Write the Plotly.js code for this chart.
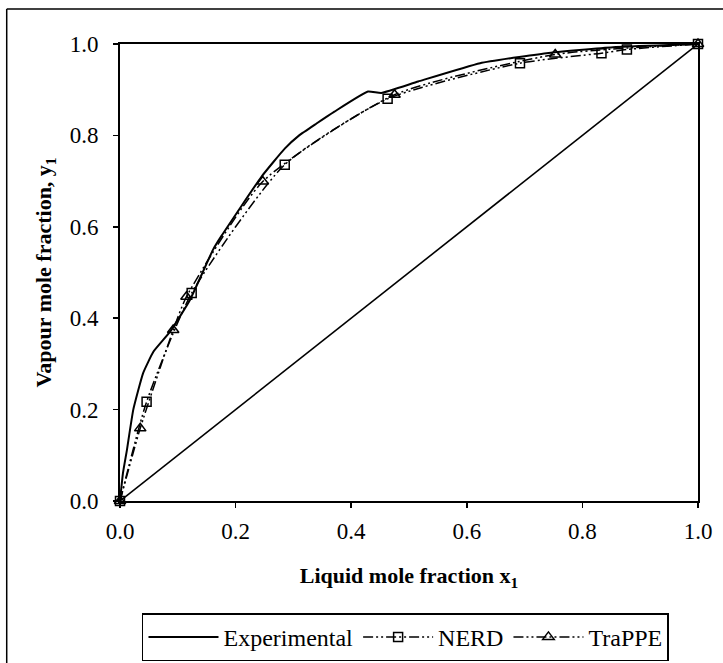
<!DOCTYPE html>
<html>
<head>
<meta charset="utf-8">
<script src="https://cdn.plot.ly/plotly-3.0.1.min.js"></script>
<style>html,body{margin:0;padding:0;background:#fff;}#chart{width:723px;height:663px;}</style>
</head>
<body>
<div id="chart"></div>
<script>
// Experimental (solid line)
const expX = [0, 0.005, 0.012, 0.023, 0.04, 0.058, 0.087, 0.121, 0.161, 0.175, 0.245, 0.285, 0.31, 0.34, 0.371, 0.429, 0.452, 0.516, 0.623, 0.738, 0.853, 1.0];
const expY = [0, 0.06, 0.112, 0.2, 0.28, 0.327, 0.371, 0.44, 0.55, 0.579, 0.71, 0.771, 0.800, 0.826, 0.852, 0.896, 0.893, 0.918, 0.958, 0.98, 0.993, 1.0];
// NERD (squares)
const nerdX = [0, 0.046, 0.124, 0.285, 0.463, 0.692, 0.833, 0.877, 1.0];
const nerdY = [0, 0.217, 0.455, 0.736, 0.880, 0.958, 0.980, 0.988, 1.0];
// TraPPE (triangles)
const trappeX = [0, 0.035, 0.092, 0.115, 0.247, 0.475, 0.753, 1.0];
const trappeY = [0, 0.159, 0.374, 0.447, 0.699, 0.889, 0.977, 1.0];
// y = x diagonal
const diagX = [0, 1];
const diagY = [0, 1];
const tickVals = [0, 0.2, 0.4, 0.6, 0.8, 1.0];

const serif = 'Liberation Serif';
const dashPat = '10px,3px,2px,3px,2px,3px';

const traces = [
  {x: expX, y: expY, type: 'scatter', mode: 'lines', name: 'Experimental',
   line: {color: '#000', width: 2, shape: 'spline', smoothing: 0.4}, cliponaxis: false},
  {x: nerdX, y: nerdY, type: 'scatter', mode: 'lines+markers', name: 'NERD',
   line: {color: '#000', width: 1.5, dash: dashPat, shape: 'spline', smoothing: 0.6},
   marker: {symbol: 'square-open', size: 9, color: '#000', line: {width: 1.5, color: '#000'}}, cliponaxis: false},
  {x: trappeX, y: trappeY, type: 'scatter', mode: 'lines+markers', name: 'TraPPE',
   line: {color: '#000', width: 1.5, dash: dashPat, shape: 'spline', smoothing: 0.6},
   marker: {symbol: 'triangle-up-open', size: 10, color: '#000', line: {width: 1.5, color: '#000'}}, cliponaxis: false},
  {x: diagX, y: diagY, type: 'scatter', mode: 'lines', showlegend: false,
   line: {color: '#000', width: 1.6}, cliponaxis: false}
];

const layout = {
  width: 723, height: 663,
  margin: {l: 120, r: 25, t: 44, b: 162},
  paper_bgcolor: '#fff', plot_bgcolor: '#fff',
  font: {family: serif, color: '#000', size: 22},
  showlegend: true,
  xaxis: {
    range: [0, 1], tickvals: tickVals, tickformat: '.1f', automargin: false,
    showgrid: false, zeroline: false,
    showline: true, mirror: true, linecolor: '#000', linewidth: 2,
    ticks: 'outside', ticklen: 5, tickwidth: 1.5, tickcolor: '#000',
    ticklabelstandoff: 3,
    tickfont: {family: serif, size: 23, color: '#000'},
    title: {text: '<b>Liquid mole fraction x<sub>1</sub></b>', font: {family: serif, size: 22, color: '#000'}, standoff: 25}
  },
  yaxis: {
    range: [0, 1], tickvals: tickVals, tickformat: '.1f', automargin: false,
    showgrid: false, zeroline: false,
    showline: true, mirror: true, linecolor: '#000', linewidth: 2,
    ticks: 'outside', ticklen: 5, tickwidth: 1.5, tickcolor: '#000',
    ticklabelstandoff: 10,
    tickfont: {family: serif, size: 23, color: '#000'},
    title: {text: '<b>Vapour mole fraction, y<sub>1</sub></b>', font: {family: serif, size: 22, color: '#000'}, standoff: 12}
  },
  legend: {
    orientation: 'h', xref: 'container', yref: 'container',
    x: 0.1964, xanchor: 'left', y: 0.075, yanchor: 'top',
    bordercolor: '#000', borderwidth: 1.5, bgcolor: '#fff',
    font: {family: serif, size: 24, color: '#000'},
    itemwidth: 70, tracegroupgap: 0
  },
  shapes: [
    {type: 'line', xref: 'paper', yref: 'paper', x0: -0.196, x1: 1.1, y0: 1.0766, y1: 1.0766, line: {color: '#000', width: 1.5}},
    {type: 'line', xref: 'paper', yref: 'paper', x0: -0.196, x1: -0.196, y0: 1.0766, y1: -0.4, line: {color: '#000', width: 1.5}}
  ]
};

Plotly.newPlot('chart', traces, layout, {displayModeBar: false, staticPlot: true});
</script>
</body>
</html>
